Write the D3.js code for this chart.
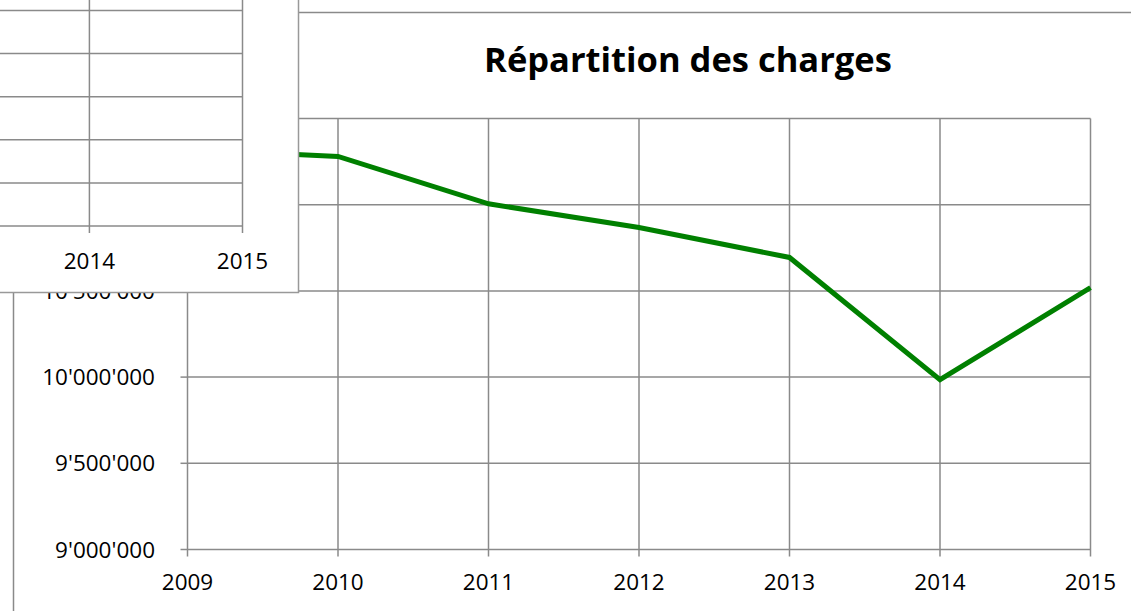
<!DOCTYPE html>
<html>
<head>
<meta charset="utf-8">
<script src="https://cdn.jsdelivr.net/npm/d3@7"></script>
<style>
  html, body { margin: 0; padding: 0; background: #fff; }
  svg { display: block; }
  text { font-family: "Open Sans", sans-serif; fill: #000; }
</style>
</head>
<body>
<svg id="chart" width="1131" height="611"></svg>
<script>
// ---- data ----
const title = "Répartition des charges";
const years = [2009, 2010, 2011, 2012, 2013, 2014, 2015];
const charges = [11320000, 11280000, 11005000, 10868000, 10694000, 9985000, 10519000];
const yTicks = [9000000, 9500000, 10000000, 10500000, 11000000, 11500000];
// fragment of a second chart overlapping the top-left corner
const overlayYears = [2009, 2010, 2011, 2012, 2013, 2014, 2015];
const overlayVisibleLabels = [2014, 2015];
const overlayTicks = [0, 1, 2, 3, 4, 5];

const svg = d3.select("#chart");
const gridColor = "#8a8a8a";

// main chart frame
svg.append("rect")
  .attr("x", 13.5).attr("y", 12.5).attr("width", 1300).attr("height", 800)
  .attr("fill", "#fff").attr("stroke", gridColor).attr("stroke-width", 1.5);

// title
svg.append("text")
  .attr("x", 688).attr("y", 72)
  .attr("text-anchor", "middle")
  .style("font-size", "34.5px").style("font-weight", "bold")
  .text(title);

const x = d3.scaleLinear().domain([2009, 2015]).range([187.5, 1090.5]);
const y = d3.scaleLinear().domain([9000000, 11500000]).range([549.5, 118.5]);

const fmt = v => d3.format(",")(v).replace(/,/g, "'");

// horizontal gridlines
svg.append("g").selectAll("line").data(yTicks).join("line")
  .attr("x1", x(2009)).attr("x2", x(2015))
  .attr("y1", d => y(d)).attr("y2", d => y(d))
  .attr("stroke", gridColor).attr("stroke-width", 1.5);

// vertical gridlines
svg.append("g").selectAll("line").data(years).join("line")
  .attr("x1", d => x(d)).attr("x2", d => x(d))
  .attr("y1", y(11500000)).attr("y2", y(9000000) + 7)
  .attr("stroke", gridColor).attr("stroke-width", 1.5);

// y-axis ticks
svg.append("g").selectAll("line").data(yTicks).join("line")
  .attr("x1", x(2009) - 7).attr("x2", x(2009))
  .attr("y1", d => y(d)).attr("y2", d => y(d))
  .attr("stroke", gridColor).attr("stroke-width", 1.5);

// y labels
svg.append("g").selectAll("text").data(yTicks).join("text")
  .attr("x", 155).attr("y", d => y(d))
  .attr("dy", "0.36em")
  .attr("text-anchor", "end")
  .style("font-size", "22.5px")
  .text(fmt);

// x labels
svg.append("g").selectAll("text").data(years).join("text")
  .attr("x", d => x(d)).attr("y", 582)
  .attr("dy", "0.36em")
  .attr("text-anchor", "middle")
  .style("font-size", "22.5px")
  .text(d => d);

// data line
const line = d3.line().x((d, i) => x(years[i])).y(d => y(d));
svg.append("path")
  .datum(charges)
  .attr("d", line)
  .attr("fill", "none")
  .attr("stroke", "#008000")
  .attr("stroke-width", 5)
  .attr("stroke-linejoin", "miter");

// ---- overlapping chart fragment ----
const ov = svg.append("g");
ov.append("rect")
  .attr("x", -20).attr("y", -20).attr("width", 318.5).attr("height", 312.5)
  .attr("fill", "#fff").attr("stroke", "#999").attr("stroke-width", 1.5);

const ox = d3.scaleLinear().domain([2009, 2015]).range([-676, 242.5]);
const oy = d3.scaleLinear().domain([0, 5]).range([226, 10.5]);

ov.append("g").selectAll("line").data(overlayTicks).join("line")
  .attr("x1", ox(2009)).attr("x2", ox(2015))
  .attr("y1", d => oy(d)).attr("y2", d => oy(d))
  .attr("stroke", gridColor).attr("stroke-width", 1.5);

ov.append("g").selectAll("line").data(overlayYears).join("line")
  .attr("x1", d => ox(d)).attr("x2", d => ox(d))
  .attr("y1", -10).attr("y2", oy(0) + 7)
  .attr("stroke", gridColor).attr("stroke-width", 1.5);

ov.append("g").selectAll("text").data(overlayVisibleLabels).join("text")
  .attr("x", d => ox(d)).attr("y", 261)
  .attr("dy", "0.36em")
  .attr("text-anchor", "middle")
  .style("font-size", "22.5px")
  .text(d => d);
</script>
</body>
</html>
